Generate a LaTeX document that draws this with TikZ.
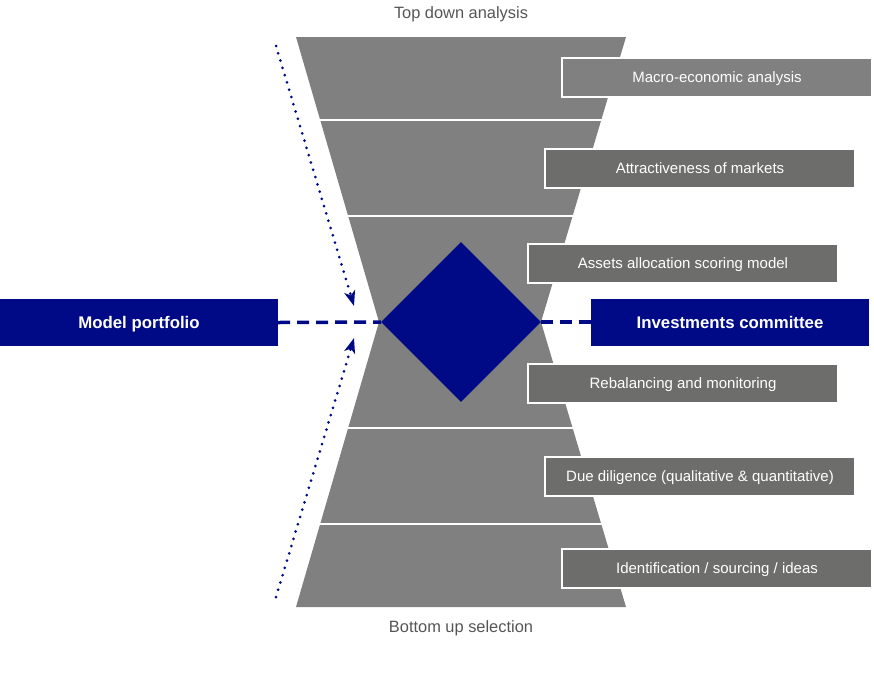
\documentclass[tikz,border=0pt]{standalone}
\usepackage{fontspec}
\setmainfont{Liberation Sans}
\usetikzlibrary{shapes.geometric,arrows.meta}
\definecolor{funnelgray}{RGB}{128,128,128}
\definecolor{boxgray}{RGB}{109,110,108}
\definecolor{navyblue}{RGB}{0,10,135}
\definecolor{capgray}{RGB}{85,85,85}
\tikzset{
  stagebox/.style  = {shape=rectangle, draw=white, line width=2pt,
                      fill=boxgray, text=white, font=\fontsize{15}{17}\selectfont,
                      text height=11pt, text depth=0pt,
                      minimum width=310pt, minimum height=39pt, inner sep=0pt},
  keybox/.style    = {shape=rectangle, fill=navyblue, text=white,
                      font=\bfseries\fontsize{16.8}{19}\selectfont,
                      text height=12pt, text depth=0pt,
                      minimum width=278pt, minimum height=47pt, inner sep=0pt},
  corenode/.style  = {shape=diamond, fill=navyblue, minimum width=160pt,
                      minimum height=160pt, inner sep=0pt},
  caption/.style   = {text=capgray, font=\fontsize{16.4}{19}\selectfont},
  link/.style      = {draw=navyblue, line width=3.5pt, dash pattern=on 12pt off 7pt},
  flow/.style      = {draw=navyblue, line width=3pt, line cap=round,
                      dash pattern=on 0pt off 7.6pt,
                      -{Stealth[length=15pt,width=11pt,inset=4pt]}}
}
\begin{document}
\begin{tikzpicture}
  [
    x = 1pt,
    y = -1pt
  ]
  \useasboundingbox (0,0) rectangle (874,678);

  % hourglass
  \fill[funnelgray] (296,37) -- (626,37) -- (541,322) -- (626,607)
    -- (296,607) -- (379,322) -- cycle;
  \foreach \yy/\xl/\xr in {120/320/602, 216/348/573, 428/348/573, 524/320/602}
    \draw[white, line width=2.5pt] (\xl-2,\yy) -- (\xr+2,\yy);

  % captions
  \node [caption] (top) at (461,14) {Top down analysis};
  \node [caption] (bottom) at (461,628) {Bottom up selection};

  % stages
  \node [stagebox, fill=funnelgray] (S1) at (717,77)  {Macro-economic analysis};
  \node [stagebox] (S2) at (700,168) {Attractiveness of markets};
  \node [stagebox] (S3) at (683,263) {Assets allocation scoring model};
  \node [stagebox] (S4) at (683,383) {Rebalancing and monitoring};
  \node [stagebox] (S5) at (700,476) {Due diligence (qualitative \& quantitative)};
  \node [stagebox] (S6) at (717,568) {Identification / sourcing / ideas};

  % centre
  \node [corenode] (core) at (461,322) {};
  \node [keybox] (model) at (139,322.5) {Model portfolio};
  \node [keybox] (committee) at (730,322) {Investments committee};

  \draw [link] (model.east) -- (core.west);
  \draw [link] (core.east) -- (committee.west);

  \coordinate (topstart) at (276,46);
  \coordinate (topend) at (354,306);
  \coordinate (botstart) at (276,597);
  \coordinate (botend) at (354,338);
  \draw [flow] (topstart) -- (topend);
  \draw [flow] (botstart) -- (botend);
\end{tikzpicture}
\end{document}
